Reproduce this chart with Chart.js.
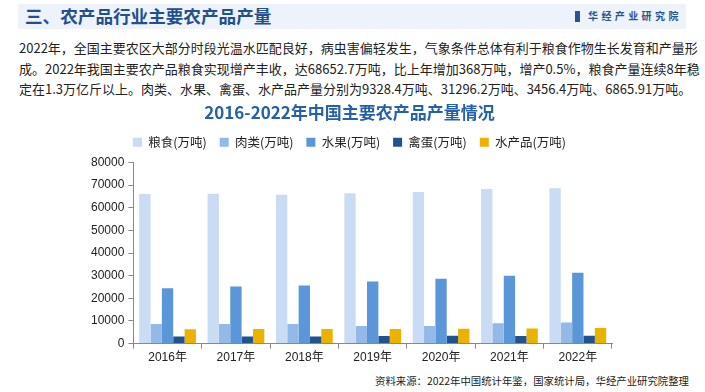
<!DOCTYPE html>
<html>
<head>
<meta charset="utf-8">
<script src="https://cdn.jsdelivr.net/npm/chart.js@4.4.0/dist/chart.umd.min.js"></script>
<style>
  body { margin: 0; width: 705px; height: 392px; background: #fff; position: relative; overflow: hidden;
         font-family: "Noto Sans CJK SC", "Liberation Sans", sans-serif; }
  #bar { position: absolute; left: 18px; top: 4px; width: 668px; height: 25px; background: #eef3fb; }
  #head { position: absolute; left: 25px; top: 3px; font-size: 17.6px; font-weight: bold; color: #234f8f; line-height: 26px; }
  #logo { position: absolute; left: 575px; top: 9px; font-size: 10px; font-weight: bold; color: #2a5490; letter-spacing: 3.4px; line-height: 14px; }
  #logo span { display: inline-block; width: 5px; height: 11px; background: #2a5490; margin-right: 8px; vertical-align: -2px; }
  #para { position: absolute; left: 19px; top: 38px; width: 664px; font-size: 13px; line-height: 20.5px; color: #222; }
  #para div { text-align: justify; text-align-last: justify; white-space: nowrap; }
  #para div.last { text-align-last: left; }
  #wrap { position: absolute; left: 0; top: 100px; width: 705px; height: 267px; }
  #src { position: absolute; left: 375px; top: 373px; font-size: 10.4px; color: #222; line-height: 16px; }
</style>
</head>
<body>
<div id="bar"></div>
<div id="head">三、农产品行业主要农产品产量</div>
<div id="logo"><span></span>华经产业研究院</div>
<div id="para">
  <div>2022年，全国主要农区大部分时段光温水匹配良好，病虫害偏轻发生，气象条件总体有利于粮食作物生长发育和产量形</div>
  <div>成。2022年我国主要农产品粮食实现增产丰收，达68652.7万吨，比上年增加368万吨，增产0.5%，粮食产量连续8年稳</div>
  <div class="last">定在1.3万亿斤以上。肉类、水果、禽蛋、水产品产量分别为9328.4万吨、31296.2万吨、3456.4万吨、6865.91万吨。</div>
</div>
<div id="wrap"><canvas id="myChart"></canvas></div>
<div id="src">资料来源：2022年中国统计年鉴，国家统计局，华经产业研究院整理</div>
<script>
const years = ['2016年', '2017年', '2018年', '2019年', '2020年', '2021年', '2022年'];
const seriesNames = ['粮食(万吨)', '肉类(万吨)', '水果(万吨)', '禽蛋(万吨)', '水产品(万吨)'];
const grain = [66044, 66161, 65789, 66384, 66949, 68285, 68653];
const meat = [8628, 8654, 8625, 7759, 7748, 8990, 9328];
const fruit = [24405, 25242, 25688, 27401, 28692, 29970, 31296];
const eggs = [3160, 3096, 3128, 3309, 3468, 3409, 3456];
const aquatic = [6379, 6445, 6458, 6480, 6549, 6690, 6866];
const colors = ['#c9dcf3', '#94b9e6', '#5b96d8', '#21538f', '#ebb200'];

const allValues = [grain, meat, fruit, eggs, aquatic];
const datasets = [];
for (var i = 0; i < allValues.length; i++) {
	datasets.push({
		label: seriesNames[i],
		data: allValues[i],
		backgroundColor: colors[i],
		borderWidth: 0,
		categoryPercentage: 0.83,
		barPercentage: 1
	});
}

const tickFont = { family: 'Liberation Sans, Noto Sans CJK SC', size: 12 };

// a bit of room under the legend
const legendGap = {
	id: 'legendGap',
	beforeInit: function (chart) {
		const origFit = chart.legend.fit;
		chart.legend.fit = function () {
			origFit.bind(chart.legend)();
			this.height += 4;
		};
	}
};

const myChart = new Chart(document.getElementById('myChart'), {
	type: 'bar',
	data: { labels: years, datasets: datasets },
	plugins: [legendGap],
	options: {
		responsive: true,
		maintainAspectRatio: false,
		animation: false,
		layout: { padding: { left: 87, right: 93, top: 0, bottom: 0 } },
		plugins: {
			title: {
				display: true,
				text: '2016-2022年中国主要农产品产量情况',
				color: '#2561a8',
				font: { family: 'Noto Sans CJK SC', size: 17, weight: 'bold', lineHeight: 1 },
				padding: { top: 4, bottom: 2 }
			},
			legend: {
				position: 'top',
				labels: {
					boxWidth: 9,
					boxHeight: 9,
					padding: 13,
					color: '#222',
					font: { family: 'Noto Sans CJK SC', size: 12.5 }
				}
			},
			tooltip: { enabled: false }
		},
		scales: {
			x: {
				grid: { display: true, drawOnChartArea: false, offset: true, tickLength: 5, color: '#888' },
				border: { display: true, color: '#888' },
				ticks: { color: '#222', font: tickFont, padding: 2 }
			},
			y: {
				min: 0,
				max: 80000,
				grid: { display: true, drawOnChartArea: false, tickLength: 5, color: '#888' },
				border: { display: true, color: '#888' },
				ticks: {
					stepSize: 10000,
					color: '#222',
					font: tickFont,
					padding: 4,
					callback: function (value) { return String(value); }
				}
			}
		}
	}
});
</script>
</body>
</html>
